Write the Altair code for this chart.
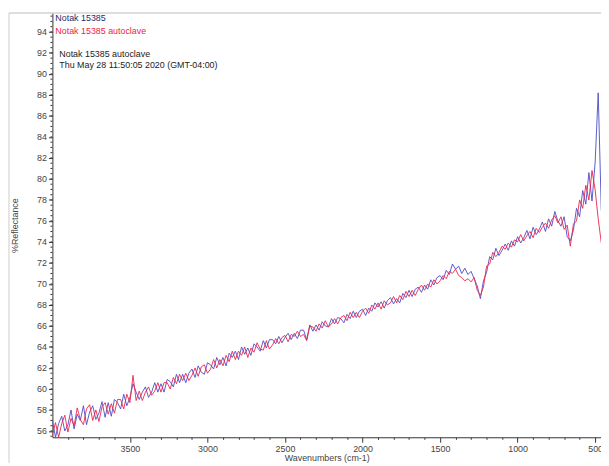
import altair as alt
import pandas as pd

# wavenumbers (cm-1), 4000 -> 460 in steps of 20
wavenumbers = list(range(4000, 459, -20))

blue = [
    57.0,55.4,56.7,57.4,56.0,56.6,58.0,56.2,57.6,57.0,58.4,56.6,57.8,58.4,57.1,57.7,58.8,57.3,58.7,57.4,
    59.0,58.7,58.1,59.5,58.4,59.2,
    60.5,59.7,59.0,59.7,60.2,59.2,59.7,60.6,59.7,60.5,59.7,60.9,60.7,60.2,61.4,60.6,61.4,60.6,61.5,61.9,
    61.1,62.2,61.6,61.4,62.5,62.3,61.9,63.0,62.3,63.0,62.2,63.4,63.0,63.6,62.8,64.0,63.3,63.9,63.2,64.3,
    64.0,63.6,64.6,63.9,64.7,
    64.7,64.3,65.0,64.4,64.9,65.3,64.7,65.3,64.8,65.6,65.6,64.7,66.1,65.5,66.1,65.6,66.4,66.0,65.9,66.7,
    66.2,66.8,66.7,66.3,67.1,66.7,67.4,66.8,67.4,67.6,67.0,67.7,67.4,68.2,67.8,68.3,67.7,68.4,68.7,68.1,
    68.6,68.2,69.1,68.7,69.4,68.8,69.5,69.7,69.2,69.9,69.5,70.4,69.9,70.6,70.8,
    70.4,71.3,70.9,71.9,71.4,71.7,71.0,71.5,70.9,71.2,70.5,69.8,68.6,70.3,71.1,72.6,72.3,73.4,72.7,73.2,
    73.8,73.2,74.1,73.6,74.5,73.9,74.4,75.1,74.3,75.4,74.7,75.2,75.9,75.0,76.2,75.5,76.9,76.0,75.5,76.4,
    74.5,74.1,75.1,77.2,76.4,78.9,77.6,80.6,77.9,81.5,88.2,77.0,
]

red = [
    55.6,56.8,55.4,56.7,57.5,55.9,57.2,56.5,58.2,57.1,56.6,58.1,58.5,57.0,58.0,56.9,58.3,58.7,57.6,58.6,
    57.7,59.0,59.0,58.1,59.5,58.7,
    61.3,58.9,59.8,58.9,59.7,60.2,59.4,59.8,60.6,59.7,60.6,60.6,60.0,61.1,60.5,61.4,60.8,61.5,60.8,61.3,
    62.0,61.2,62.1,62.3,61.5,61.9,62.8,62.0,62.8,62.2,63.2,62.6,63.6,62.8,63.6,63.2,64.0,63.0,63.9,63.5,
    64.4,63.8,63.7,64.6,63.8,
    64.2,64.8,64.3,64.9,65.1,64.5,65.2,65.0,65.5,65.0,65.2,64.6,66.0,65.9,65.5,66.2,65.8,66.5,65.9,66.2,
    66.7,66.2,66.8,67.0,66.5,67.3,66.8,67.3,66.8,67.4,67.7,67.2,68.0,67.6,68.2,67.6,68.4,68.0,68.2,68.8,
    68.2,68.9,68.5,69.3,68.8,69.4,68.9,69.5,69.9,69.4,70.0,69.7,70.4,70.0,70.3,
    70.8,70.5,71.2,71.0,71.4,70.8,70.6,70.3,70.5,70.2,70.6,69.4,68.9,69.7,71.7,71.9,73.0,72.6,73.0,73.6,
    73.3,73.9,73.5,74.2,74.0,74.7,74.1,74.6,75.0,74.4,75.3,74.9,75.4,75.8,75.3,76.1,76.5,75.8,76.4,75.2,
    75.6,73.6,75.7,76.0,78.0,77.2,79.4,78.0,80.8,79.0,76.2,73.9,
]

series_names = ["Notak 15385", "Notak 15385 autoclave"]
series_colors = ["#4a4ac4", "#ee2248"]

x_tick_values = list(range(3900, 499, -100))
y_major_ticks = list(range(56, 95, 2))
y_minor_ticks = [v / 2 for v in range(111, 192)]  # every 0.5

header_lines = ["Notak 15385 autoclave", "Thu May 28 11:50:05 2020 (GMT-04:00)"]

df = pd.DataFrame({
    "wn": wavenumbers * 2,
    "value": blue + red,
    "series": [series_names[0]] * len(wavenumbers) + [series_names[1]] * len(wavenumbers),
})

W, H = 556, 430
FONT = "Liberation Sans"

x_enc = alt.X("wn:Q",
              scale=alt.Scale(domain=[4000, 462], nice=False, zero=False),
              axis=alt.Axis(
                  values=x_tick_values,
                  labelExpr="datum.value % 500 == 0 ? datum.label : ''",
                  format="d",
                  tickSize={"condition": {"test": "datum.value % 500 == 0", "value": 5}, "value": 2},
                  title="Wavenumbers (cm-1)",
                  titleY=21, titleBaseline="middle",
                  labelOverlap=False, grid=False))

y_axis = alt.Axis(
    values=y_major_ticks, tickSize=4,
    title="%Reflectance",
    titleX=-38, titleY=215, titleAngle=270,
    titleAlign="center", titleBaseline="middle",
    labelOverlap=False, grid=False)
y_scale = alt.Scale(domain=[55.4, 95.8], nice=False, zero=False)

lines = alt.Chart(df).mark_line(strokeWidth=1, clip=True, opacity=0.9).encode(
    x=x_enc,
    y=alt.Y("value:Q", scale=y_scale, axis=y_axis),
    color=alt.Color("series:N", scale=alt.Scale(domain=series_names, range=series_colors), legend=None),
)

minor_df = pd.DataFrame({"value": y_minor_ticks})
minor = alt.Chart(minor_df).mark_rule(color="#333", strokeWidth=1).encode(
    y=alt.Y("value:Q", scale=y_scale, axis=y_axis),
    x=alt.value(0), x2=alt.value(-2),
)

one = pd.DataFrame({"a": [0]})
leg1 = alt.Chart(one).mark_text(text=series_names[0], align="left", baseline="middle",
                                font=FONT, fontSize=9, color="#2a2a66").encode(
    x=alt.value(3), y=alt.value(5))
leg2 = alt.Chart(one).mark_text(text=series_names[1], align="left", baseline="middle",
                                font=FONT, fontSize=9, color=series_colors[1]).encode(
    x=alt.value(3), y=alt.value(18))
hdr1 = alt.Chart(one).mark_text(text=header_lines[0], align="left", baseline="middle",
                                font=FONT, fontSize=9, color="#222").encode(
    x=alt.value(7), y=alt.value(42))
hdr2 = alt.Chart(one).mark_text(text=header_lines[1], align="left", baseline="middle",
                                font=FONT, fontSize=9, color="#222").encode(
    x=alt.value(7), y=alt.value(53))

frame_top = alt.Chart(one).mark_rule(color="#bbbbbb", strokeWidth=1).encode(
    x=alt.value(-44), x2=alt.value(W), y=alt.value(0))
frame_left = alt.Chart(one).mark_rule(color="#cccccc", strokeWidth=1).encode(
    x=alt.value(-44), y=alt.value(0), y2=alt.value(H + 26))

chart = alt.layer(lines, minor, frame_top, frame_left, leg1, leg2, hdr1, hdr2).properties(
    width=W, height=H,
    autosize=alt.AutoSizeParams(type="none"),
    padding={"left": 45, "top": 2, "right": 0, "bottom": 24},
).configure_view(stroke=None).configure_axis(
    labelFont=FONT, labelFontSize=9, labelColor="#444",
    titleFont=FONT, titleFontSize=9, titleColor="#444", titleFontWeight="normal",
    domainColor="#333", tickColor="#333", labelPadding=2,
)

chart.save("out.html", embed_options={"renderer": "svg", "actions": False})
